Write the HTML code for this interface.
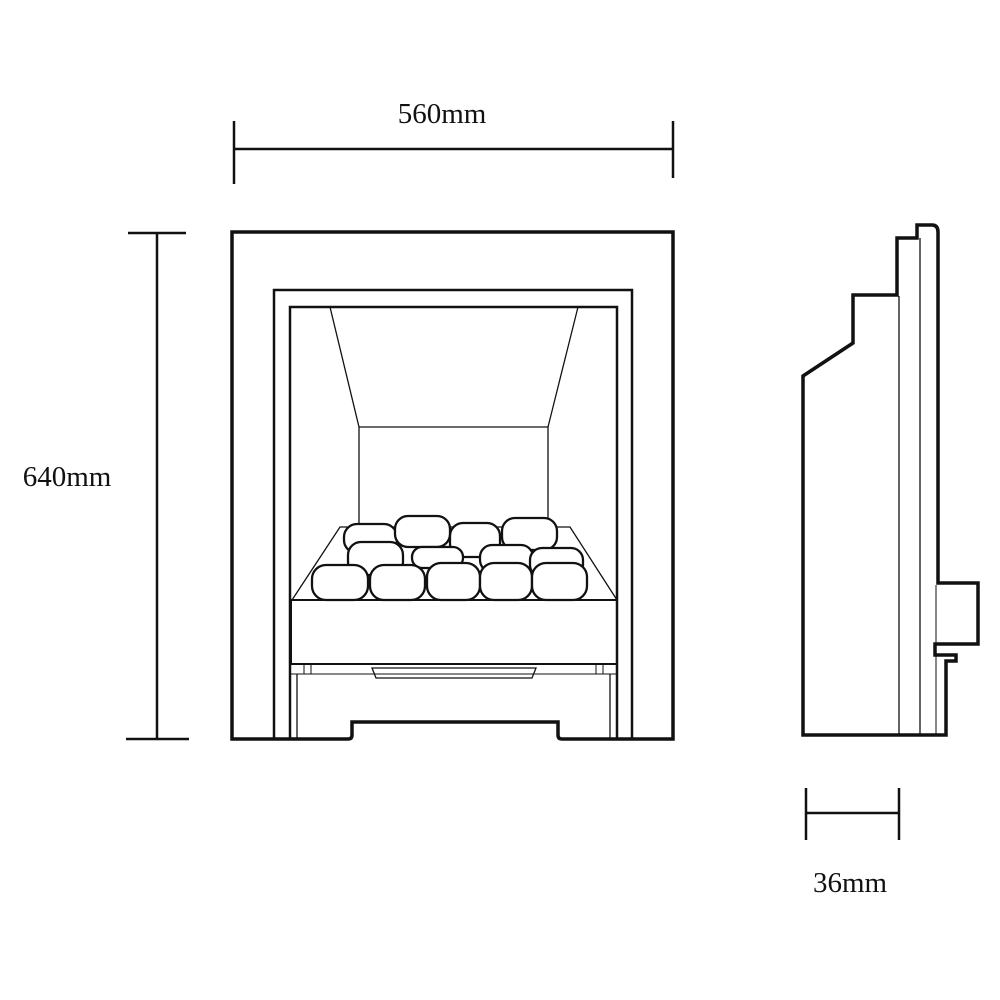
<!DOCTYPE html>
<html><head><style>body{margin:0;background:#fff}svg{display:block}</style></head><body>
<svg width="1000" height="1000" viewBox="0 0 1000 1000" xmlns="http://www.w3.org/2000/svg">
<g font-family="Liberation Serif, serif" font-size="29" fill="#111" text-anchor="middle">
<text x="442" y="123">560mm</text>
<text x="67" y="486">640mm</text>
<text x="850" y="892">36mm</text>
</g>
<g stroke="#111" stroke-width="2.5" fill="none">
<line x1="234" y1="149" x2="673" y2="149"/>
<line x1="234" y1="121" x2="234" y2="184"/>
<line x1="673" y1="121" x2="673" y2="178"/>
<line x1="157" y1="233" x2="157" y2="739"/>
<line x1="128" y1="233" x2="186" y2="233"/>
<line x1="126" y1="739" x2="189" y2="739"/>
<line x1="806" y1="813" x2="899" y2="813"/>
<line x1="806" y1="788" x2="806" y2="840"/>
<line x1="899" y1="788" x2="899" y2="840"/>
</g>
<g stroke="#111" fill="none">
<path d="M232 739 V232 H673 V739 H562 Q558 739 558 735 V722 H352 V735 Q352 739 348 739 Z" stroke-width="3.5"/>
<path d="M274 739 V290 H632 V739" stroke-width="2.5"/>
<path d="M290 739 V307 H617 V739" stroke-width="2.5"/>
<line x1="330" y1="307" x2="359" y2="427" stroke-width="1.3"/>
<line x1="578" y1="307" x2="548" y2="427" stroke-width="1.3"/>
<path d="M359 530 V427 H548 V530" stroke-width="1.3"/>
<path d="M292 600 L340 527 H570 L617 600" stroke-width="1.3"/>
<rect x="291" y="600" width="326" height="64" stroke-width="2"/>
<line x1="291" y1="674" x2="617" y2="674" stroke-width="1"/>
<path d="M372 668 H536 L532 678 H376 Z" stroke-width="1.3"/>
<line x1="297" y1="674" x2="297" y2="739" stroke-width="1.3"/>
<line x1="610" y1="674" x2="610" y2="739" stroke-width="1.3"/>
<rect x="304" y="664" width="7" height="10" stroke-width="1"/>
<rect x="596" y="664" width="7" height="10" stroke-width="1"/>
</g>
<g stroke="#111" stroke-width="2.3" fill="#fff">
<rect x="344" y="524" width="53" height="29" rx="13"/>
<rect x="395" y="516" width="55" height="31" rx="13"/>
<rect x="450" y="523" width="50" height="34" rx="13"/>
<rect x="502" y="518" width="55" height="32" rx="13"/>
<rect x="348" y="542" width="55" height="33" rx="13"/>
<rect x="412" y="547" width="51" height="21" rx="10"/>
<rect x="480" y="545" width="53" height="27" rx="12"/>
<rect x="530" y="548" width="53" height="29" rx="12"/>
<rect x="312" y="565" width="56" height="35" rx="14"/>
<rect x="370" y="565" width="55" height="35" rx="14"/>
<rect x="427" y="563" width="53" height="37" rx="14"/>
<rect x="480" y="563" width="52" height="37" rx="14"/>
<rect x="532" y="563" width="55" height="37" rx="14"/>
</g>
<g stroke="#111" fill="none">
<path d="M803 735 V376 L853 343 V295 H897 V238 H917 V225 H932 Q938 225 938 232 V583 H978 V644 H935 V655 H956 V661 H946 V735 Z" stroke-width="3.5" stroke-linejoin="miter"/>
<line x1="899" y1="296" x2="899" y2="735" stroke-width="1.3"/>
<line x1="920" y1="238" x2="920" y2="735" stroke-width="1.3"/>
<line x1="936" y1="585" x2="936" y2="735" stroke-width="1"/>
</g>
</svg>
</body></html>
